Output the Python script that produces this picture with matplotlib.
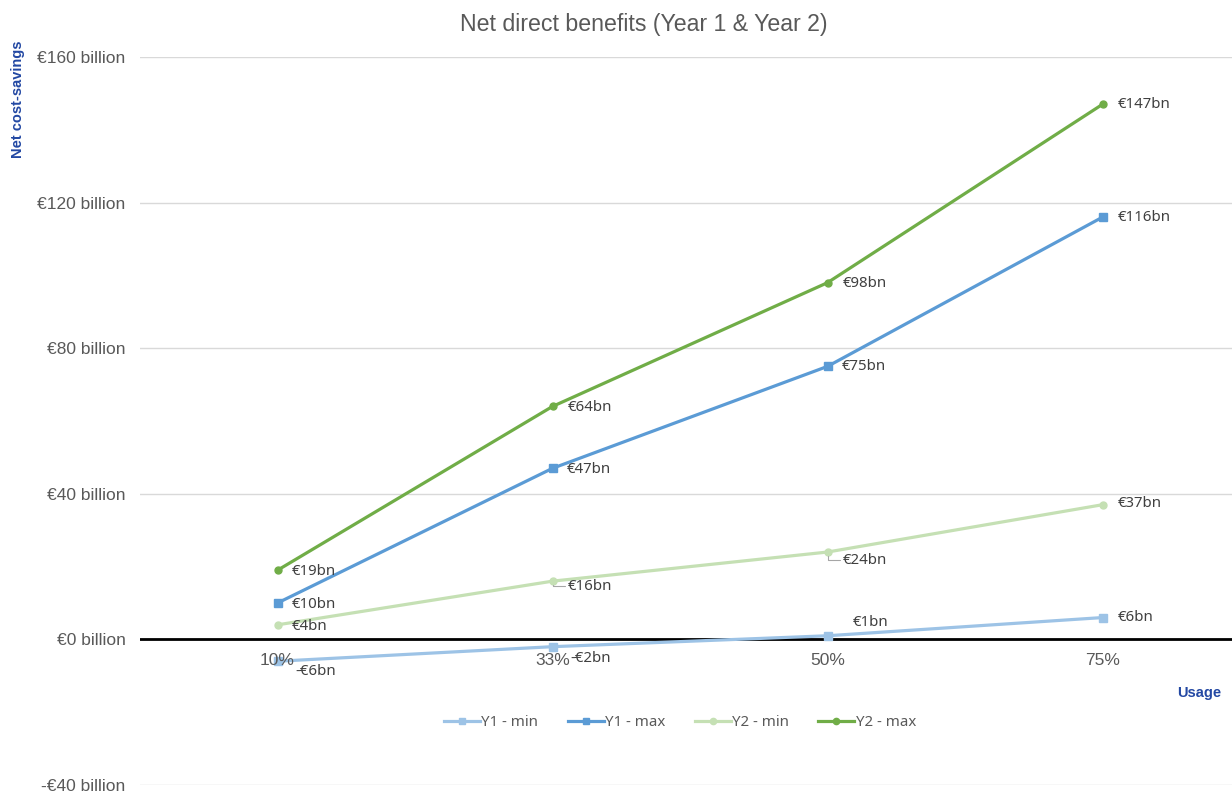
import matplotlib.pyplot as plt
from matplotlib.lines import Line2D

# Usage scenarios and net savings (EUR billion)
usage = ['10%', '33%', '50%', '75%']
y1_min = [-6, -2, 1, 6]
y1_max = [10, 47, 75, 116]
y2_min = [4, 16, 24, 37]
y2_max = [19, 64, 98, 147]
y_ticks = [-40, 0, 40, 80, 120, 160]

series = [
    ('Y1 - min', y1_min, '#9dc3e6', 's'),
    ('Y1 - max', y1_max, '#5b9bd5', 's'),
    ('Y2 - min', y2_min, '#c5e0b4', 'o'),
    ('Y2 - max', y2_max, '#70ad47', 'o'),
]

# per-point label offsets in pixels (dx, dy)
offsets = {
    'Y1 - min': [(18, -10), (18, -12), (25, 13), (15, 0)],
    'Y1 - max': [(14, -1), (14, -1), (14, 0), (15, 0)],
    'Y2 - min': [(14, -2), (15, -5), (15, -8), (15, 1)],
    'Y2 - max': [(14, -1), (15, -1), (15, -1), (15, 0)],
}
leaders = {('Y2 - min', 1), ('Y2 - min', 2)}

fig = plt.figure(figsize=(12.32, 7.91), dpi=100)
ax = fig.add_axes([140 / 1232, 6 / 791, 1100 / 1232, 728 / 791])

x = list(range(len(usage)))
for name, vals, color, marker in series:
    ax.plot(x, vals, color=color, lw=2.3, marker=marker,
            ms=5.5 if marker == 's' else 5, zorder=3, solid_capstyle='round')
    for i, v in enumerate(vals):
        dx, dy = offsets[name][i]
        lab = f'-€{abs(v)}bn' if v < 0 else f'€{v}bn'
        kw = {}
        if (name, i) in leaders:
            kw['arrowprops'] = dict(arrowstyle='-', color='#a6a6a6', lw=0.8,
                                    shrinkA=0, shrinkB=3,
                                    connectionstyle='angle,angleA=0,angleB=90,rad=0')
        ax.annotate(lab, (i, v), xytext=(dx, dy), textcoords='offset pixels',
                    ha='left', va='center', fontsize=10.8, family='Noto Sans',
                    color='#404040', zorder=4, **kw)

ax.set_xlim(-0.5, 3.5)
ax.set_ylim(-40, 160)
ax.set_yticks(y_ticks)
ax.set_yticklabels([f'-€{abs(t)} billion' if t < 0 else f'€{t} billion' for t in y_ticks],
                   fontsize=12.5, color='#595959', family='Liberation Sans')
ax.set_xticks([])
ax.tick_params(axis='y', length=0, pad=10.5)
ax.grid(axis='y', color='#d9d9d9', lw=1)
ax.axhline(0, color='black', lw=2, zorder=2)
for s in ax.spines.values():
    s.set_visible(False)

# category labels sit just under the zero line
for i, lab in enumerate(usage):
    ax.annotate(lab, (i, 0), xytext=(0, -21), textcoords='offset pixels',
                ha='center', va='center', fontsize=12.5, color='#595959',
                family='Liberation Sans')

fig.text(644 / 1232, 1 - 25 / 791, 'Net direct benefits (Year 1 & Year 2)',
         ha='center', va='center', fontsize=16.7, color='#595959', family='Liberation Sans')
fig.text(18 / 1232, 1 - 99 / 791, 'Net cost-savings', rotation=90, ha='center',
         va='center', fontsize=10.5, fontweight='bold', color='#2348a3',
         family='Liberation Sans')
fig.text(1221 / 1232, 1 - 693 / 791, 'Usage', ha='right', va='center', fontsize=10.5,
         fontweight='bold', color='#2348a3', family='Liberation Sans')

handles = [Line2D([], [], color=c, lw=2.3, marker=m, ms=5 if m == 's' else 4.5)
           for _, _, c, m in series]
fig.legend(handles, [s[0] for s in series], loc='center',
           bbox_to_anchor=(680 / 1232, 1 - 723 / 791), ncol=4, frameon=False,
           handlelength=2.4, handletextpad=0.1, columnspacing=1.95,
           prop={'family': 'Noto Sans', 'size': 10.8}, labelcolor='#595959')

fig.savefig('out.png', dpi=100)
